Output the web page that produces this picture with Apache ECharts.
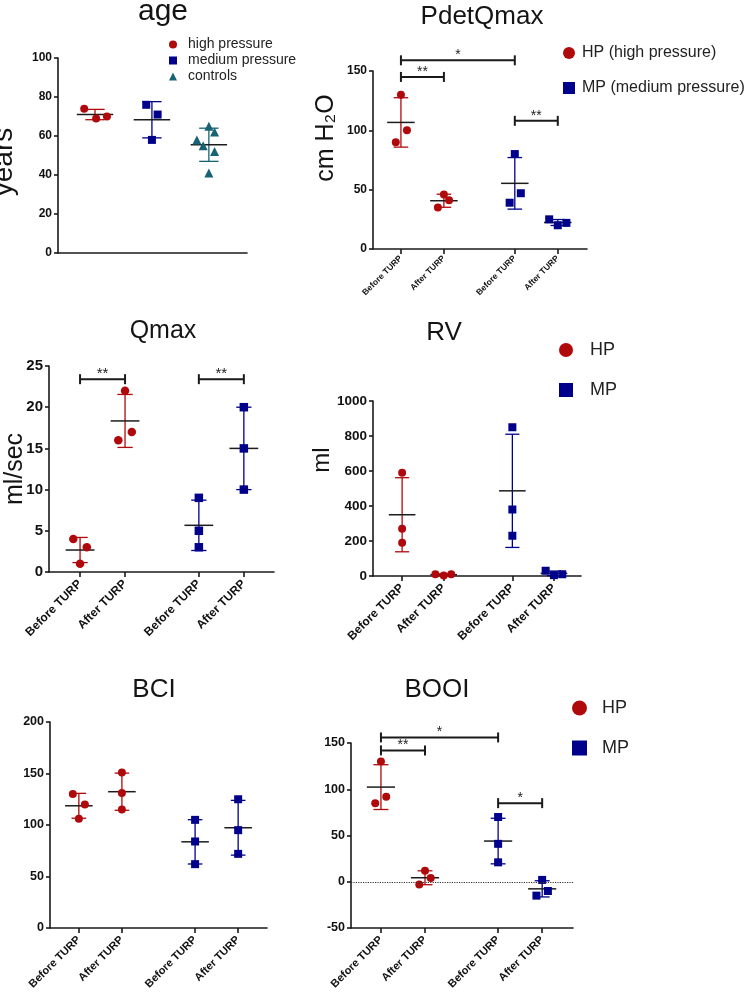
<!DOCTYPE html>
<html><head><meta charset="utf-8">
<script src="https://cdn.jsdelivr.net/npm/echarts@6/dist/echarts.min.js"></script>
<style>html,body{margin:0;padding:0;background:#fff}#c{width:749px;height:992px}</style>
</head><body><div id="c"></div>
<script>
// ================= DATA =================
const turpLabels = ['Before TURP', 'After TURP', 'Before TURP', 'After TURP'];

// age (years)
const ageHP = [74, 69, 70];
const ageMP = [76, 71, 58];
const ageCtrl = [58, 55, 65, 62, 52, 41];
const ageHPJitter = [-0.19, 0.02, 0.21];
const ageMPJitter = [-0.1, 0.1, 0];
const ageCtrlJitter = [-0.21, -0.1, 0, 0.1, 0.1, 0];

// PdetQmax (cm H2O)
const pdetHPBefore = [130, 100, 90];
const pdetHPAfter = [46, 41, 35];
const pdetMPBefore = [80, 47, 39];
const pdetMPAfter = [25, 20, 22];
const pdetJitter = [[0, 0.14, -0.12], [0, 0.12, -0.14], [0, 0.14, -0.12], [-0.2, 0, 0.2]];
const pdetBrackets = [[0, 2, 159, '*'], [0, 1, 145, '**'], [2, 3, 108, '**']];

// Qmax (ml/sec)
const qmaxHPBefore = [4, 3, 1];
const qmaxHPAfter = [22, 17, 16];
const qmaxMPBefore = [9, 5, 3];
const qmaxMPAfter = [20, 15, 10];
const qmaxJitter = [[-0.15, 0.15, 0], [0, 0.15, -0.15], [0, 0, 0], [0, 0, 0]];
const qmaxBrackets = [[0, 1, 23.4, '**'], [2, 3, 23.4, '**']];

// RV (ml)
const rvHPBefore = [590, 270, 190];
const rvHPAfter = [10, 3, 10];
const rvMPBefore = [850, 380, 230];
const rvMPAfter = [30, 5, 10];
const rvJitter = [[0, 0, 0], [-0.2, 0, 0.18], [0, 0, 0], [-0.2, 0, 0.2]];

// BCI
const bciHPBefore = [130, 120, 106];
const bciHPAfter = [151, 131, 115];
const bciMPBefore = [105, 84, 62];
const bciMPAfter = [125, 95, 72];
const bciJitter = [[-0.14, 0.14, 0], [0, 0, 0], [0, 0, 0], [0, 0, 0]];

// BOOI
const booiHPBefore = [130, 92, 85];
const booiHPAfter = [12, 4, -3];
const booiMPBefore = [70, 41, 21];
const booiMPAfter = [2, -10, -15];
const booiJitter = [[0, 0.12, -0.13], [0, 0.13, -0.13], [0, 0, 0], [0, 0.13, -0.13]];
const booiBrackets = [[0, 2, 156, '*'], [0, 1, 142, '**'], [2, 3, 85, '*']];

// ================= STYLE / LAYOUT =================
const FONT = '"Liberation Sans", Arial, Helvetica, sans-serif';
const RED = '#b0090c', NAVY = '#00008a', TEAL = '#176273';
const AXIS = '#1a1a1a';

const grids = [], xAxes = [], yAxes = [], series = [];
function mean(a) { return a.reduce((s, v) => s + v, 0) / a.length; }
function sd(a) { const m = mean(a); return Math.sqrt(a.reduce((s, v) => s + (v - m) * (v - m), 0) / (a.length - 1)); }

function errorSeries(i, g) {
  const capHalf = 0.17, meanHalf = 0.32;
  return {
    type: 'custom', xAxisIndex: i, yAxisIndex: i, z: 2, silent: true, clip: false,
    encode: { x: 0, y: 1 },
    data: g.sets.map(s => [s.pos, mean(s.values), sd(s.values)]),
    renderItem: (params, api) => {
      const x = api.value(0), m = api.value(1), d = api.value(2);
      const p = (xx, yy) => api.coord([xx, yy]);
      const ln = (a, c, col, w) => ({ type: 'line', shape: { x1: a[0], y1: a[1], x2: c[0], y2: c[1] }, style: { stroke: col, lineWidth: w } });
      return {
        type: 'group', children: [
          ln(p(x, m + d), p(x, m - d), g.color, 1.3),
          ln(p(x - capHalf, m + d), p(x + capHalf, m + d), g.color, 1.3),
          ln(p(x - capHalf, m - d), p(x + capHalf, m - d), g.color, 1.3),
          ln(p(x - meanHalf, m), p(x + meanHalf, m), '#1c1c1c', 1.5)
        ]
      };
    }
  };
}

function bracketSeries(i, list, pos, fs) {
  return {
    type: 'custom', xAxisIndex: i, yAxisIndex: i, z: 5, silent: true, clip: false,
    encode: { x: [0, 2], y: 1 },
    data: list.map(b => [pos[b[0]], b[2], pos[b[1]]]),
    renderItem: (params, api) => {
      const b = list[params.dataIndex];
      const a = api.coord([pos[b[0]], b[2]]), c = api.coord([pos[b[1]], b[2]]);
      const st = { stroke: AXIS, lineWidth: 2 };
      return {
        type: 'group', children: [
          { type: 'line', shape: { x1: a[0], y1: a[1], x2: c[0], y2: c[1] }, style: st },
          { type: 'line', shape: { x1: a[0], y1: a[1] - 5, x2: a[0], y2: a[1] + 5 }, style: st },
          { type: 'line', shape: { x1: c[0], y1: c[1] - 5, x2: c[0], y2: c[1] + 5 }, style: st },
          { type: 'text', x: (a[0] + c[0]) / 2, y: a[1] + 2,
            style: { text: b[3], fontSize: fs, fontFamily: FONT, fill: '#222', align: 'center', verticalAlign: 'bottom', textAlign: 'center', textVerticalAlign: 'bottom' } }
        ]
      };
    }
  };
}

function addPanel(p) {
  const i = grids.length;
  grids.push({ left: p.grid[0], top: p.grid[1], width: p.grid[2], height: p.grid[3], containLabel: false });
  const hasX = !!p.xLabels;
  xAxes.push({
    gridIndex: i, type: 'value', min: p.xRange[0], max: p.xRange[1],
    splitLine: { show: false },
    axisLine: { show: true, onZero: false, lineStyle: { color: AXIS, width: 1.6 } },
    axisTick: hasX ? { show: true, customValues: p.xPos, length: 5, lineStyle: { color: AXIS, width: 1.6 } } : { show: false },
    axisLabel: hasX ? {
      show: true, customValues: p.xPos, rotate: 45, margin: p.xMargin, fontSize: p.xFont, fontWeight: 'bold',
      color: '#111', fontFamily: FONT,
      formatter: v => { const k = p.xPos.findIndex(q => Math.abs(q - v) < 1e-6); return k >= 0 ? p.xLabels[k] : ''; }
    } : { show: false }
  });
  yAxes.push({
    gridIndex: i, type: 'value', min: p.yMin, max: p.yMax, interval: p.yStep,
    splitLine: { show: false },
    axisLine: { show: true, onZero: false, lineStyle: { color: AXIS, width: 1.6 } },
    axisTick: { show: true, length: 4, lineStyle: { color: AXIS, width: 1.6 } },
    axisLabel: { fontSize: p.yFont, fontWeight: 'bold', color: '#111', fontFamily: FONT, margin: 6,
      formatter: v => String(v) }
  });
  p.groups.forEach(g => {
    const s = {
      type: 'scatter', name: g.name, xAxisIndex: i, yAxisIndex: i, z: 3,
      symbol: g.symbol, symbolSize: g.size, itemStyle: { color: g.color, opacity: 1 },
      data: g.sets.flatMap(st => st.values.map((v, k) => [st.pos + st.jitter[k], v]))
    };
    if (p.zeroLine && g === p.groups[0]) {
      s.markLine = { silent: true, symbol: ['none', 'none'], label: { show: false },
        lineStyle: { type: 'dotted', color: '#333', width: 1.2 }, data: [{ yAxis: 0 }] };
    }
    series.push(s);
    series.push(errorSeries(i, g));
  });
  if (p.brackets) series.push(bracketSeries(i, p.brackets, p.xPos, p.bracketFont));
}

function turpGroups(hpName, mpName, pos, hp, mp, jit, size) {
  return [
    { name: hpName, color: RED, symbol: 'circle', size: size,
      sets: [{ pos: pos[0], values: hp[0], jitter: jit[0] }, { pos: pos[1], values: hp[1], jitter: jit[1] }] },
    { name: mpName, color: NAVY, symbol: 'rect', size: size,
      sets: [{ pos: pos[2], values: mp[0], jitter: jit[2] }, { pos: pos[3], values: mp[1], jitter: jit[3] }] }
  ];
}

// age
addPanel({
  grid: [58, 58, 189, 195], xRange: [0.35, 3.67], yMin: 0, yMax: 100, yStep: 20, yFont: 12,
  groups: [
    { name: 'high pressure', color: RED, symbol: 'circle', size: 8, sets: [{ pos: 1, values: ageHP, jitter: ageHPJitter }] },
    { name: 'medium pressure', color: NAVY, symbol: 'rect', size: 8, sets: [{ pos: 2, values: ageMP, jitter: ageMPJitter }] },
    { name: 'controls', color: TEAL, symbol: 'triangle', size: 9, sets: [{ pos: 3, values: ageCtrl, jitter: ageCtrlJitter }] }
  ]
});
// PdetQmax
const pdetPos = [1, 2, 3.65, 4.65];
addPanel({
  grid: [373, 71, 214, 178], xRange: [0.35, 5.33], xPos: pdetPos, xLabels: turpLabels, xFont: 8.5, xMargin: 8,
  yMin: 0, yMax: 150, yStep: 50, yFont: 12,
  groups: turpGroups('HP (high pressure)', 'MP (medium pressure)', pdetPos,
    [pdetHPBefore, pdetHPAfter], [pdetMPBefore, pdetMPAfter], pdetJitter, 8),
  brackets: pdetBrackets, bracketFont: 14
});
// Qmax
const qmaxPos = [1, 2, 3.64, 4.64];
addPanel({
  grid: [49, 366, 225, 206], xRange: [0.31, 5.31], xPos: qmaxPos, xLabels: turpLabels, xFont: 12, xMargin: 10,
  yMin: 0, yMax: 25, yStep: 5, yFont: 15,
  groups: turpGroups('HP', 'MP', qmaxPos, [qmaxHPBefore, qmaxHPAfter], [qmaxMPBefore, qmaxMPAfter], qmaxJitter, 8.5),
  brackets: qmaxBrackets, bracketFont: 15
});
// RV
const rvPos = [1, 2, 3.65, 4.65];
addPanel({
  grid: [373, 401, 208, 175], xRange: [0.30, 5.30], xPos: rvPos, xLabels: turpLabels, xFont: 12, xMargin: 10,
  yMin: 0, yMax: 1000, yStep: 200, yFont: 13.5,
  groups: turpGroups('HP', 'MP', rvPos, [rvHPBefore, rvHPAfter], [rvMPBefore, rvMPAfter], rvJitter, 8)
});
// BCI
const bciPos = [1, 2, 3.7, 4.7];
addPanel({
  grid: [50, 722, 217, 210], xRange: [0.33, 5.37], xPos: bciPos, xLabels: turpLabels, xFont: 11, xMargin: 10,
  yMin: 0, yMax: 200, yStep: 50, yFont: 12.5,
  groups: turpGroups('HP', 'MP', bciPos, [bciHPBefore, bciHPAfter], [bciMPBefore, bciMPAfter], bciJitter, 8)
});
// BOOI
const booiPos = [1, 2, 3.66, 4.66];
addPanel({
  grid: [351, 743, 222, 189], xRange: [0.32, 5.36], xPos: booiPos, xLabels: turpLabels, xFont: 11, xMargin: 10,
  yMin: -50, yMax: 150, yStep: 50, yFont: 12.5, zeroLine: true,
  groups: turpGroups('HP', 'MP', booiPos, [booiHPBefore, booiHPAfter], [booiMPBefore, booiMPAfter], booiJitter, 8),
  brackets: booiBrackets, bracketFont: 14
});

// ---------- titles and axis names (text) ----------
function txt(text, x, y, size, rot) {
  return {
    type: 'text', x: x, y: y, rotation: rot ? Math.PI / 2 : 0, z: 10, silent: true,
    style: { text: text, fontSize: size, fontFamily: FONT, fill: '#141414',
      align: 'center', verticalAlign: 'middle', textAlign: 'center', textVerticalAlign: 'middle' }
  };
}
const graphics = [
  txt('age', 163, 12, 30), txt('PdetQmax', 482, 17, 26), txt('Qmax', 163, 331, 25),
  txt('RV', 444, 333, 26), txt('BCI', 154, 690, 26), txt('BOOI', 437, 690, 26),
  txt('years', 4, 162, 28, true), txt('cm H\u2082O', 326, 138, 25, true),
  txt('ml/sec', 15, 469, 25, true), txt('ml', 322, 460, 24, true)
];

// ---------- legends ----------
const legends = [
  { left: 169, top: 37, padding: 0, orient: 'vertical', itemWidth: 8, itemHeight: 8, itemGap: 1, selectedMode: false,
    textStyle: { fontSize: 14, lineHeight: 15, color: '#222', fontFamily: FONT, padding: [0, 0, 0, 6] },
    data: [{ name: 'high pressure', icon: 'circle' }, { name: 'medium pressure', icon: 'rect' }, { name: 'controls', icon: 'triangle' }] },
  { left: 563, top: 44, padding: 0, orient: 'vertical', itemWidth: 12, itemHeight: 12, itemGap: 17, selectedMode: false,
    textStyle: { fontSize: 16, lineHeight: 18, color: '#222', fontFamily: FONT, padding: [0, 0, 0, 2] },
    data: [{ name: 'HP (high pressure)', icon: 'circle' }, { name: 'MP (medium pressure)', icon: 'rect' }] },
  { left: 559, top: 340, padding: 0, orient: 'vertical', itemWidth: 14, itemHeight: 14, itemGap: 20, selectedMode: false,
    textStyle: { fontSize: 18, lineHeight: 20, color: '#222', fontFamily: FONT, padding: [0, 0, 0, 12] },
    data: [{ name: 'HP', icon: 'circle' }, { name: 'MP', icon: 'rect' }] },
  { left: 572, top: 698, padding: 0, orient: 'vertical', itemWidth: 15, itemHeight: 15, itemGap: 20, selectedMode: false,
    textStyle: { fontSize: 18, lineHeight: 20, color: '#222', fontFamily: FONT, padding: [0, 0, 0, 10] },
    data: [{ name: 'HP', icon: 'circle' }, { name: 'MP', icon: 'rect' }] }
];

const chart = echarts.init(document.getElementById('c'), null, { renderer: 'canvas' });
chart.setOption({
  animation: false,
  backgroundColor: '#ffffff',
  textStyle: { fontFamily: FONT },
  grid: grids, xAxis: xAxes, yAxis: yAxes, series: series,
  legend: legends, graphic: graphics
});
</script>
</body></html>
